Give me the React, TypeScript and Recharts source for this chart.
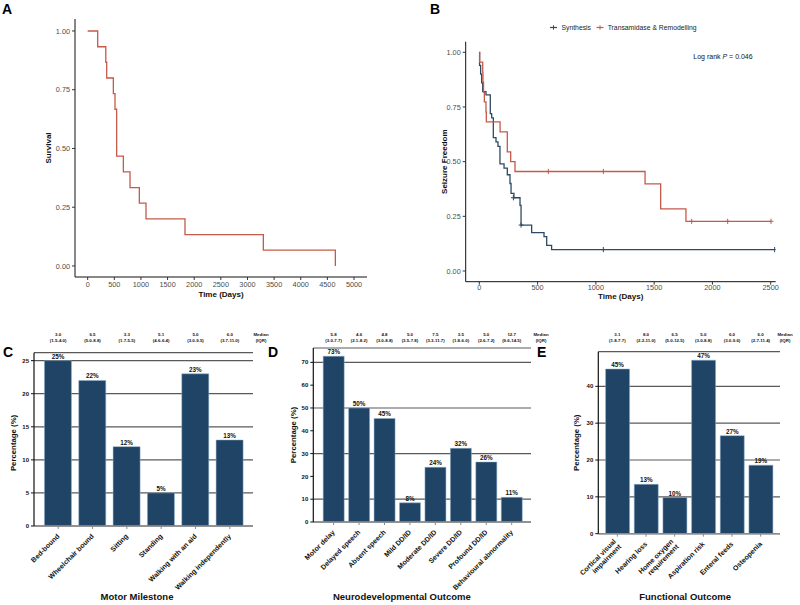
import React from 'react'
import { LineChart, Line, BarChart, Bar, XAxis, YAxis, CartesianGrid, LabelList, Label } from 'recharts'

const FONT = '"Liberation Sans", Arial, Helvetica, sans-serif'
const RED = '#C5594A'
const BLUE = '#2C4A63'
const NAVY = '#1F4466'

// A - overall survival (Kaplan-Meier)
const survivalDays = [0, 188, 340, 357, 482, 513, 544, 670, 795, 970, 1095, 1827, 3298, 4650]
const survivalProb = [1, 0.933, 0.867, 0.8, 0.733, 0.667, 0.467, 0.4, 0.333, 0.267, 0.2, 0.133, 0.067, 0]
const survivalTicks = [0, 500, 1000, 1500, 2000, 2500, 3000, 3500, 4000, 4500, 5000]
const probTicks = [0, 0.25, 0.5, 0.75, 1]

// B - seizure freedom by group
const synthesisDays = [0, 2, 11, 20, 29, 57, 94, 106, 120, 143, 160, 177, 212, 240, 263, 272, 297, 349, 358, 449, 555, 578, 620, 2534]
const synthesisProb = [1, 0.94, 0.9, 0.86, 0.82, 0.805, 0.72, 0.7, 0.61, 0.59, 0.57, 0.49, 0.47, 0.44, 0.4, 0.355, 0.335, 0.3, 0.21, 0.175, 0.157, 0.117, 0.098, 0.098]
const synthesisCensorDays = [292, 358, 1064, 2534]
const synthesisCensorProb = [0.335, 0.21, 0.098, 0.098]
const transDays = [0, 3, 29, 31, 36, 43, 57, 60, 178, 240, 269, 306, 1422, 1556, 1773, 2503]
const transProb = [1, 0.955, 0.909, 0.864, 0.818, 0.773, 0.727, 0.682, 0.636, 0.545, 0.5, 0.455, 0.398, 0.284, 0.227, 0.227]
const transCensorDays = [592, 1064, 1822, 2131, 2503]
const transCensorProb = [0.455, 0.455, 0.227, 0.227, 0.227]
const seizureTicks = [0, 500, 1000, 1500, 2000, 2500]

// C - motor milestone
const motorNames = ['Bed-bound', 'Wheelchair bound', 'Sitting', 'Standing', 'Walking with an aid', 'Walking independently']
const motorValues = [25, 22, 12, 5, 23, 13]
const motorMedians = ['3.0', '6.5', '3.3', '5.1', '5.0', '6.0']
const motorIqr = ['(1.5-4.0)', '(5.0-8.8)', '(1.7-5.5)', '(4.6-6.4)', '(3.0-9.5)', '(3.7-11.0)']
const motorTicks = [0, 5, 10, 15, 20, 25]

// D - neurodevelopmental outcome
const neuroNames = ['Motor delay', 'Delayed speech', 'Absent speech', 'Mild DD/ID', 'Moderate DD/ID', 'Severe DD/ID', 'Profound DD/ID', 'Behavioural abnormality']
const neuroValues = [72.7, 50.0, 45.4, 8.4, 24.0, 32.3, 26.3, 10.8]
const neuroMedians = ['5.8', '4.6', '4.8', '5.0', '7.5', '3.5', '5.0', '12.7']
const neuroIqr = ['(3.0-7.7)', '(2.1-8.2)', '(3.0-8.8)', '(3.5-7.8)', '(3.3-11.7)', '(1.8-6.0)', '(2.6-7.2)', '(9.6-14.5)']
const neuroTicks = [0, 10, 20, 30, 40, 50, 60, 70]

// E - functional outcome
const funcNames = ['Cortical visual\nimpairment', 'Hearing loss', 'Home oxygen\nrequirement', 'Aspiration risk', 'Enteral feeds', 'Osteopenia']
const funcValues = [44.7, 13.4, 9.8, 47.1, 26.6, 18.6]
const funcMedians = ['3.1', '8.0', '6.5', '5.0', '6.0', '6.0']
const funcIqr = ['(1.8-7.7)', '(2.2-11.0)', '(5.0-12.5)', '(3.0-8.8)', '(3.0-9.6)', '(2.7-11.4)']
const funcTicks = [0, 10, 20, 30, 40]

const toPoints = (t: number[], s: number[]) => t.map((d, i) => ({ t: d, s: s[i] }))

const full: React.CSSProperties = { position: 'absolute', left: 0, top: 0 }

const yTitle = (value: string, xOff: number, dy: number, size: number) => (
  <Label
    content={(p: any) => {
      const vb = p.viewBox
      const x = vb.x + xOff
      const y = vb.y + vb.height / 2 + dy
      return (
        <text x={x} y={y} transform={`rotate(-90 ${x} ${y})`} textAnchor="middle" dominantBaseline="central"
          fontSize={size} fontWeight="bold" fill="#111">{value}</text>
      )
    }}
  />
)

const xTitle = (value: string, dx: number, base: number, size: number) => (
  <Label
    content={(p: any) => {
      const vb = p.viewBox
      return (
        <text x={vb.x + vb.width / 2 + dx} y={vb.y + base} textAnchor="middle" fontSize={size} fontWeight="bold" fill="#111">
          {value}
        </text>
      )
    }}
  />
)

function CensorMark(props: any) {
  const { cx, cy, stroke } = props
  if (cx == null || cy == null) return null
  return (
    <g>
      <line x1={cx} x2={cx} y1={cy - 2.6} y2={cy + 2.6} stroke={stroke} strokeWidth={1} />
      <line x1={cx - 2.4} x2={cx + 2.4} y1={cy} y2={cy} stroke={stroke} strokeWidth={1} />
    </g>
  )
}

const kmTick = { fontSize: 7.3, fill: '#4d4d4d' }

function PanelA() {
  return (
    <div style={full}>
      <LineChart width={800} height={605} margin={{ top: 19, right: 433, bottom: 298, left: 35 }}>
        <XAxis type="number" dataKey="t" domain={[-238, 5244]} allowDataOverflow ticks={survivalTicks} height={30}
          tick={kmTick} tickSize={3} tickMargin={2} axisLine={{ stroke: '#111' }} tickLine={{ stroke: '#333' }}
          label={xTitle('Time (Days)', 0, 20, 8)} />
        <YAxis type="number" domain={[-0.047, 1.051]} allowDataOverflow ticks={probTicks} width={40}
          tickFormatter={(v: number) => v.toFixed(2)} tick={kmTick} tickSize={3} tickMargin={2}
          axisLine={{ stroke: '#111' }} tickLine={{ stroke: '#333' }} label={yTitle('Survival', 13, 0, 8)} />
        <Line data={toPoints(survivalDays, survivalProb)} dataKey="s" type="stepAfter" stroke={RED} strokeWidth={1.3}
          dot={false} activeDot={false} isAnimationActive={false} />
      </LineChart>
    </div>
  )
}

function PanelB() {
  return (
    <div style={full}>
      <LineChart width={800} height={605} margin={{ top: 41.7, right: 24.3, bottom: 293.3, left: 425.7 }}>
        <XAxis type="number" dataKey="t" domain={[-117, 2543]} allowDataOverflow ticks={seizureTicks} height={30}
          tick={kmTick} tickSize={3} tickMargin={0.5} axisLine={{ stroke: '#111' }} tickLine={{ stroke: '#333' }}
          label={xTitle('Time (Days)', 0, 17, 8)} />
        <YAxis type="number" dataKey="s" domain={[-0.049, 1.0485]} allowDataOverflow ticks={probTicks} width={40}
          tickFormatter={(v: number) => v.toFixed(2)} tick={kmTick} tickSize={3} tickMargin={2}
          axisLine={{ stroke: '#111' }} tickLine={{ stroke: '#333' }} label={yTitle('Seizure Freedom', 18.6, 0, 8)} />
        <Line data={toPoints(synthesisDays, synthesisProb)} dataKey="s" type="stepAfter" stroke={BLUE} strokeWidth={1.3}
          dot={false} activeDot={false} isAnimationActive={false} />
        <Line data={toPoints(transDays, transProb)} dataKey="s" type="stepAfter" stroke={RED} strokeWidth={1.3}
          dot={false} activeDot={false} isAnimationActive={false} />
        <Line data={toPoints(synthesisCensorDays, synthesisCensorProb)} dataKey="s" stroke={BLUE} strokeOpacity={0}
          dot={<CensorMark />} activeDot={false} isAnimationActive={false} />
        <Line data={toPoints(transCensorDays, transCensorProb)} dataKey="s" stroke={RED} strokeOpacity={0}
          dot={<CensorMark />} activeDot={false} isAnimationActive={false} />
      </LineChart>
    </div>
  )
}

function SlantTick(props: any) {
  const { x, y, payload } = props
  const lines = String(payload.value).split('\n')
  const lh = 7.4
  return (
    <g transform={`translate(${x},${y})`}>
      <text transform="rotate(-45)" textAnchor="end" fontSize={7} fontWeight="bold" fill="#111">
        {lines.map((ln, i) => (
          <tspan key={i} x={0} y={(i - (lines.length - 1) / 2) * lh + 2.5}>{ln}</tspan>
        ))}
      </text>
    </g>
  )
}

function MedianTick(props: any) {
  const { x, y, index, medians, iqrs } = props
  return (
    <text textAnchor="middle" fontSize={4.4} fontWeight="bold" fill="#111">
      <tspan x={x} y={y - 7.4}>{medians[index]}</tspan>
      <tspan x={x} y={y - 1.4}>{iqrs[index]}</tspan>
    </text>
  )
}

interface BarPanelProps {
  names: string[]
  values: number[]
  medians: string[]
  iqrs: string[]
  yMax: number
  yTicks: number[]
  margin: { top: number; right: number; bottom: number; left: number }
  padding: { left: number; right: number }
  gap: string
  topMargin: number
  title: string
  titleDx: number
  titleBase: number
  yTitleX: number
  yTitleDy: number
  headerDx: number
}

function BarPanel(p: BarPanelProps) {
  const rows = p.names.map((n, i) => ({ name: n, value: p.values[i] }))
  const header = (
    <Label
      content={(lp: any) => {
        const vb = lp.viewBox
        const x = vb.x + vb.width + p.headerDx
        const y = vb.y + vb.height - p.topMargin
        return (
          <text textAnchor="middle" fontSize={4.4} fontWeight="bold" fill="#111">
            <tspan x={x} y={y - 7.4}>Median</tspan>
            <tspan x={x} y={y - 1.4}>(IQR)</tspan>
          </text>
        )
      }}
    />
  )
  return (
    <div style={full}>
      <BarChart width={800} height={605} data={rows} margin={p.margin} barCategoryGap={p.gap}>
        <CartesianGrid xAxisId="bottom" vertical={false} stroke="#5a5a5a" strokeWidth={1.2} />
        <XAxis xAxisId="top" orientation="top" dataKey="name" height={20} padding={p.padding} axisLine={false}
          tickLine={false} tickSize={0} tickMargin={p.topMargin} interval={0}
          tick={<MedianTick medians={p.medians} iqrs={p.iqrs} />} label={header} />
        <XAxis xAxisId="bottom" dataKey="name" height={60} padding={p.padding} tickSize={3} tickMargin={6} interval={0}
          tick={<SlantTick />} axisLine={{ stroke: '#8a8a8a', strokeWidth: 1.5 }} tickLine={{ stroke: '#8a8a8a' }}
          label={xTitle(p.title, p.titleDx, p.titleBase, 9.5)} />
        <YAxis type="number" width={25} domain={[0, p.yMax]} allowDataOverflow ticks={p.yTicks} tickSize={3} tickMargin={2}
          tick={{ fontSize: 6, fontWeight: 'bold', fill: '#111' }} axisLine={{ stroke: '#111', strokeWidth: 1.2 }}
          tickLine={{ stroke: '#111' }} label={yTitle('Percentage (%)', p.yTitleX, p.yTitleDy, 7.8)} />
        <Bar xAxisId="bottom" dataKey="value" fill={NAVY} stroke="#8fb0cc" strokeWidth={0.5} isAnimationActive={false}>
          <LabelList dataKey="value" position="top" offset={2} fontSize={6.3} fontWeight="bold" fill="#111"
            formatter={(v: any) => `${Math.round(Number(v))}%`} />
        </Bar>
      </BarChart>
    </div>
  )
}

function Overlay() {
  const letter = { fontSize: 14, fontWeight: 'bold' as const, fill: '#000' }
  return (
    <svg width={800} height={605} style={{ ...full, pointerEvents: 'none' }}>
      <text x={2} y={14} {...letter}>A</text>
      <text x={430} y={13.5} {...letter}>B</text>
      <text x={3} y={357} {...letter}>C</text>
      <text x={268} y={357} {...letter}>D</text>
      <text x={537} y={357} {...letter}>E</text>
      <line x1={550} x2={557} y1={27.5} y2={27.5} stroke={BLUE} strokeWidth={1.2} />
      <line x1={553.5} x2={553.5} y1={25.3} y2={29.7} stroke={BLUE} strokeWidth={1} />
      <text x={561.5} y={30} fontSize={6.8} fill="#222">Synthesis</text>
      <line x1={596.5} x2={603.5} y1={27.5} y2={27.5} stroke={RED} strokeWidth={1.2} />
      <line x1={600} x2={600} y1={25.3} y2={29.7} stroke={RED} strokeWidth={1} />
      <text x={607.7} y={30} fontSize={6.8} fill="#222">Transamidase &amp; Remodelling</text>
      <text x={693.3} y={59.3} fontSize={7} fill="#111">
        Log rank <tspan fontStyle="italic">P</tspan> = 0.046
      </text>
    </svg>
  )
}

export default function App() {
  return (
    <div style={{ position: 'absolute', left: 0, top: 0, width: 800, height: 605, background: '#fff', fontFamily: FONT, overflow: 'hidden' }}>
      <PanelA />
      <PanelB />
      <BarPanel names={motorNames} values={motorValues} medians={motorMedians} iqrs={motorIqr}
        yMax={26.2} yTicks={motorTicks} margin={{ top: 332.7, right: 547, bottom: 19, left: 9 }}
        padding={{ left: 7, right: 6 }} gap="10%" topMargin={9.7}
        title="Motor Milestone" titleDx={-6.5} titleBase={74.4} yTitleX={5} yTitleDy={3.6} headerDx={8} />
      <BarPanel names={neuroNames} values={neuroValues} medians={neuroMedians} iqrs={neuroIqr}
        yMax={76.3} yTicks={neuroTicks} margin={{ top: 328, right: 269, bottom: 23, left: 288.3 }}
        padding={{ left: 7.6, right: 6.6 }} gap="9%" topMargin={5}
        title="Neurodevelopmental Outcome" titleDx={-20.3} titleBase={78.4} yTitleX={5} yTitleDy={0} headerDx={10} />
      <BarPanel names={funcNames} values={funcValues} medians={funcMedians} iqrs={funcIqr}
        yMax={49.4} yTicks={funcTicks} margin={{ top: 331.7, right: 20, bottom: 11.3, left: 573.3 }}
        padding={{ left: 4.7, right: 5 }} gap="9%" topMargin={8.7}
        title="Functional Outcome" titleDx={-4} titleBase={66.7} yTitleX={3.4} yTitleDy={0} headerDx={5} />
      <Overlay />
    </div>
  )
}
